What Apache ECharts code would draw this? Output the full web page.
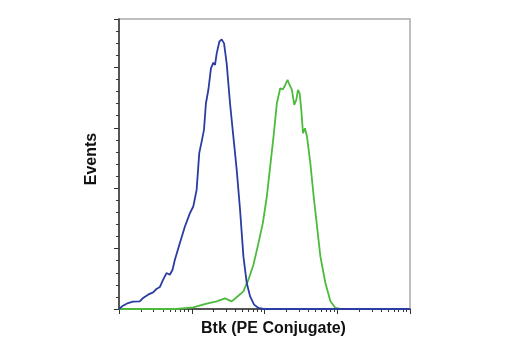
<!DOCTYPE html>
<html>
<head>
<meta charset="utf-8">
<script src="https://cdn.jsdelivr.net/npm/echarts@6/dist/echarts.min.js"></script>
<style>
  html, body { margin: 0; padding: 0; background: #fff; }
  #chart { width: 520px; height: 350px; }
</style>
</head>
<body>
<div id="chart"></div>
<script>
// x positions are in decades (log10 of fluorescence), y in major tick units
var blueX = [0, 0.055, 0.124, 0.193, 0.285, 0.331, 0.400, 0.469, 0.515, 0.561, 0.607, 0.653, 0.699, 0.736, 0.768,
    0.837, 0.906, 0.975, 1.021, 1.067, 1.103, 1.136, 1.168, 1.195, 1.228, 1.264, 1.297, 1.320, 1.343, 1.379,
    1.411, 1.444, 1.480, 1.526, 1.572, 1.618, 1.664, 1.710, 1.756, 1.802, 1.857, 1.917, 1.986, 4];
var blueY = [0, 0.055, 0.099, 0.121, 0.127, 0.182, 0.237, 0.275, 0.331, 0.364, 0.485, 0.595, 0.567, 0.650, 0.815,
    1.091, 1.366, 1.587, 1.697, 1.972, 2.579, 2.771, 2.964, 3.405, 3.625, 3.983, 4.077, 4.039, 4.231, 4.424,
    4.463, 4.397, 4.066, 3.405, 2.854, 2.303, 1.642, 0.871, 0.430, 0.209, 0.072, 0.017, 0, 0];

var greenX = [0, 0.791, 1.021, 1.205, 1.343, 1.457, 1.549, 1.641, 1.710, 1.779, 1.848, 1.917, 1.977, 2.032, 2.078,
    2.124, 2.170, 2.216, 2.253, 2.285, 2.317, 2.345, 2.377, 2.409, 2.437, 2.460, 2.483, 2.506, 2.529, 2.556,
    2.584, 2.630, 2.676, 2.722, 2.768, 2.837, 2.906, 2.975, 3.044];
var greenY = [0, 0, 0.028, 0.088, 0.127, 0.176, 0.127, 0.220, 0.292, 0.485, 0.733, 1.091, 1.421, 1.862, 2.358,
    2.854, 3.405, 3.653, 3.636, 3.708, 3.791, 3.708, 3.625, 3.377, 3.460, 3.625, 3.570, 3.295, 2.909, 2.992,
    2.854, 2.413, 1.862, 1.366, 0.871, 0.430, 0.127, 0.017, 0];

var decades = [0, 1, 2, 3];
var minorSteps = [2, 3, 4, 5, 6, 7, 8, 9];

var minorTicks = [];
decades.forEach(function (d) {
    minorSteps.forEach(function (k) {
        minorTicks.push(d + Math.log10(k));
    });
});

function pairs(xs, ys) {
    return xs.map(function (x, i) { return [x, ys[i]]; });
}

var chart = echarts.init(document.getElementById('chart'));

var axisColor = '#333';
var font = '"Liberation Sans Narrow", "Arial Narrow", "Liberation Sans", Arial, sans-serif';

chart.setOption({
    animation: false,
    grid: {
        left: 119,
        top: 19,
        right: 110,
        bottom: 41,
        show: true,
        borderColor: '#aaa',
        borderWidth: 1.5
    },
    xAxis: [{
        type: 'value',
        min: 0,
        max: 4,
        interval: 1,
        name: 'Btk (PE Conjugate)',
        nameLocation: 'middle',
        nameGap: 12,
        nameTextStyle: {
            fontFamily: font, fontWeight: 'bold', fontSize: 16, color: '#111',
            verticalAlign: 'top', padding: [0, 0, 0, 18]
        },
        axisLine: { lineStyle: { color: axisColor, width: 1.5 } },
        axisTick: { length: 5, lineStyle: { color: axisColor } },
        axisLabel: { show: false },
        splitLine: { show: false }
    }, {
        type: 'value',
        position: 'bottom',
        min: 0,
        max: 4,
        axisLine: { show: false },
        axisTick: { show: true, length: 3, customValues: minorTicks, lineStyle: { color: axisColor } },
        axisLabel: { show: false },
        splitLine: { show: false }
    }],
    yAxis: {
        type: 'value',
        min: 0,
        max: 4.8,
        interval: 1,
        name: 'Events',
        nameLocation: 'middle',
        nameGap: 19,
        nameTextStyle: {
            fontFamily: font, fontWeight: 'bold', fontSize: 16, color: '#111',
            padding: [0, 0, 0, 10]
        },
        axisLine: { show: true, lineStyle: { color: axisColor, width: 1.5 } },
        axisTick: { show: true, length: 5, lineStyle: { color: axisColor } },
        minorTick: { show: true, splitNumber: 5, length: 3, lineStyle: { color: axisColor } },
        axisLabel: { show: false },
        splitLine: { show: false }
    },
    series: [{
        name: 'PE',
        type: 'line',
        showSymbol: false,
        data: pairs(greenX, greenY),
        lineStyle: { color: '#4cbb3c', width: 1.8 }
    }, {
        name: 'Control',
        type: 'line',
        showSymbol: false,
        data: pairs(blueX, blueY),
        lineStyle: { color: '#2b3ca3', width: 1.8 }
    }]
});
</script>
</body>
</html>
